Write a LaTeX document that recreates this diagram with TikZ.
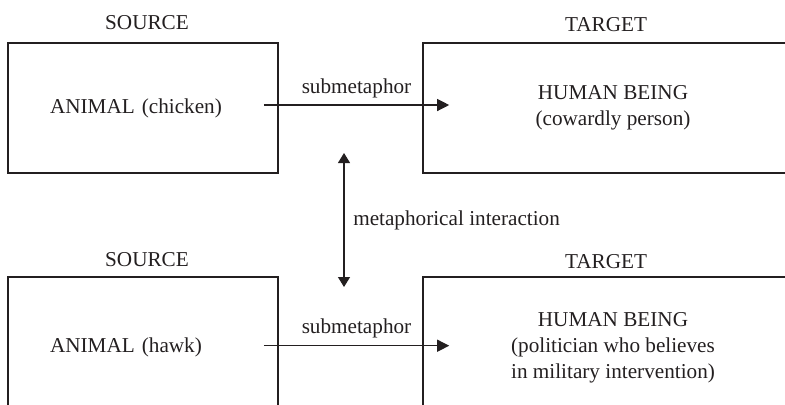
\documentclass[tikz,border=0pt]{standalone}
\usepackage{fontspec}
\setmainfont{Liberation Serif}
\usetikzlibrary{arrows.meta}
\definecolor{ink}{RGB}{35,31,32}

\begin{document}
\begin{tikzpicture}[
    x=0.5pt, y=-0.5pt, % pixel grid, y pointing down
    font=\fontsize{10.6pt}{13pt}\selectfont,
    every node/.style = {text=ink},
    frame/.style = {draw=ink, line width=0.8pt},
    srcbox/.style = {frame, text width=93pt, inner xsep=21pt, align=left},
    tgtbox/.style = {frame, minimum width=190pt, align=center},
    line/.style = {-{Triangle[length=6pt,width=6pt]}, draw=ink, line width=0.6pt},
    twoway/.style = {line, {Triangle[length=5pt,width=6pt]}-{Triangle[length=5pt,width=6pt]}}
    ]
    \tikzstyle{caption} = [inner sep=0pt]
    \useasboundingbox (0,0) rectangle (785,404);
    \clip (0,0) rectangle (785,404);

    % upper pair
    \node[srcbox, minimum height=65pt] (srcA) at (143,108) {ANIMAL (chicken)};
    \node[tgtbox, minimum height=65pt] (tgtA) at (613,108) {HUMAN BEING\\(cowardly person)};
    \node[caption] (srcAcap) at (147,23) {SOURCE};
    \node[caption] (tgtAcap) at (606,25) {TARGET};

    % lower pair
    \node[srcbox, minimum height=70.5pt] (srcB) at (143,347.5) {ANIMAL (hawk)};
    \node[tgtbox, minimum height=70.5pt] (tgtB) at (613,347.5) {HUMAN BEING\\(politician who believes\\in military intervention)};
    \node[caption] (srcBcap) at (147,260) {SOURCE};
    \node[caption] (tgtBcap) at (606,262) {TARGET};

    \draw[line] ([xshift=-7.5pt,yshift=1.5pt]srcA.east) -- node[above] (subA) {submetaphor} ([xshift=13.5pt,yshift=1.5pt]tgtA.west);
    \draw[line] ([xshift=-7.5pt,yshift=0.9pt]srcB.east) -- node[above] (subB) {submetaphor} ([xshift=13.5pt,yshift=0.9pt]tgtB.west);

    \coordinate (up) at (344,153);
    \coordinate (down) at (344,287);
    \draw[twoway] (up) -- node[right, xshift=1pt] (inter) {metaphorical interaction} (down);
\end{tikzpicture}
\end{document}
